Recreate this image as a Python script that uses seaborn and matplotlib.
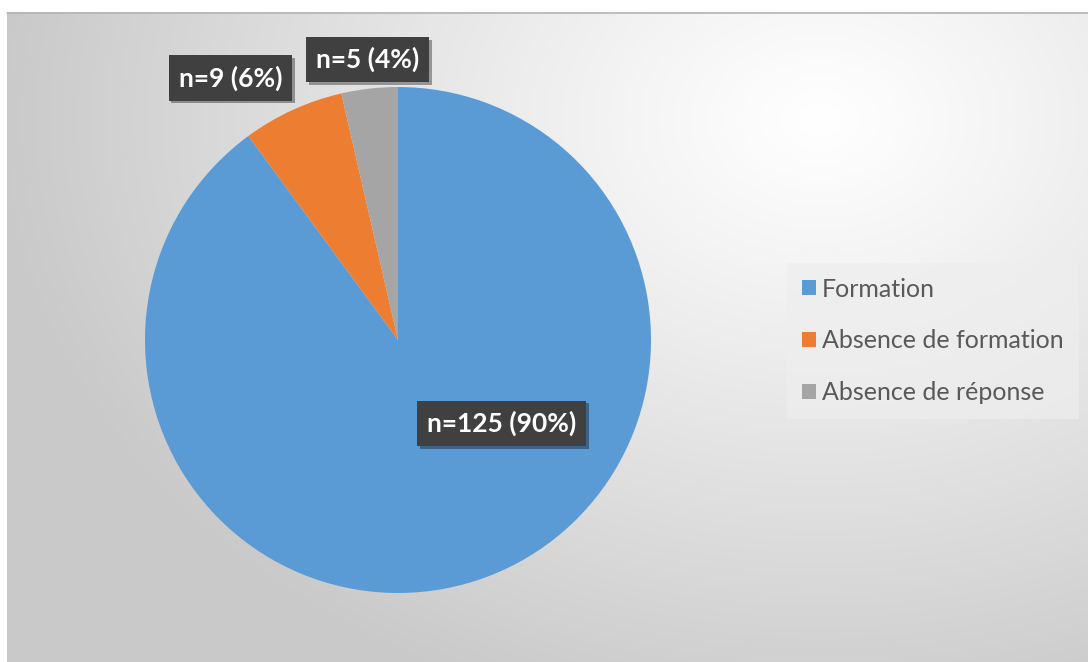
import numpy as np
import matplotlib
matplotlib.use("Agg")
import matplotlib.pyplot as plt
import matplotlib.patheffects as pe
from matplotlib.patches import Patch
import seaborn as sns

categories = ["Formation", "Absence de formation", "Absence de réponse"]
counts = [125, 9, 5]
percents = [90, 6, 4]
colors = ["#5B9BD5", "#ED7D31", "#A5A5A5"]

sns.set_theme(style="white")
plt.rcParams['font.family'] = ['Lato', 'DejaVu Sans']

W, H = 1088, 662
fig = plt.figure(figsize=(W / 100, H / 100), dpi=100)
fig.patch.set_facecolor("white")

# background gradient panel
bg = fig.add_axes([0, 0, 1, 1])
bg.set_xlim(0, W)
bg.set_ylim(H, 0)
bg.axis("off")
x0, y0 = 7, 12
xs = np.arange(x0, W) + 0.5
ys = np.arange(y0, H) + 0.5
X, Y = np.meshgrid(xs, ys)
d = np.sqrt(((X - 820) / 820) ** 2 + ((Y - 120) / 620) ** 2)
val = 1 - 0.21 * np.clip(d, 0, 1) ** 1.1
img = np.dstack([val, val, val])
bg.imshow(img, extent=(x0, W, H, y0), aspect="auto", interpolation="bilinear")
bg.plot([x0, W], [y0 + 0.5, y0 + 0.5], color="#b4b4b4", lw=1.2)

# pie
cx, cy, r = 398, 340, 253
ax = fig.add_axes([(cx - r) / W, (H - cy - r) / H, 2 * r / W, 2 * r / H])
ax.set_facecolor("none")
wedges, _ = ax.pie(counts, colors=colors, startangle=90, counterclock=False,
                   radius=1, wedgeprops=dict(linewidth=0))
ax.set_xlim(-1, 1)
ax.set_ylim(-1, 1)
ax.axis("off")

# label placement relative to each wedge (angle shift in deg, radius)
label_shift = [(33, 0.525), (8, 1.23), (-0.3, 1.115)]
for w, n, p, (da, rr) in zip(wedges, counts, percents, label_shift):
    mid = np.deg2rad((w.theta1 + w.theta2) / 2 + da)
    t = ax.text(rr * np.cos(mid), rr * np.sin(mid), f"n={n} ({p}%)",
                ha="center", va="center", color="white", fontsize=19,
                fontweight="bold", clip_on=False,
                bbox=dict(boxstyle="square,pad=0.38", facecolor="#404040",
                          edgecolor="none"))
    t.get_bbox_patch().set_path_effects(
        [pe.SimplePatchShadow(offset=(2, -2), shadow_rgbFace="black", alpha=0.35),
         pe.Normal()])

# legend
handles = [Patch(facecolor=c, edgecolor="none") for c in colors]
leg = fig.legend(handles, categories, loc="center left",
                 bbox_to_anchor=(787 / W, (H - 341) / H),
                 frameon=True, fontsize=18, labelcolor="#595959",
                 handlelength=0.55, handleheight=0.55, handletextpad=0.25,
                 labelspacing=1.15, borderpad=0.6, borderaxespad=0,
                 fancybox=False)
leg.get_frame().set_facecolor("#eeeeee")
leg.get_frame().set_alpha(0.7)
leg.get_frame().set_edgecolor("none")

fig.savefig("out.png", dpi=100)
